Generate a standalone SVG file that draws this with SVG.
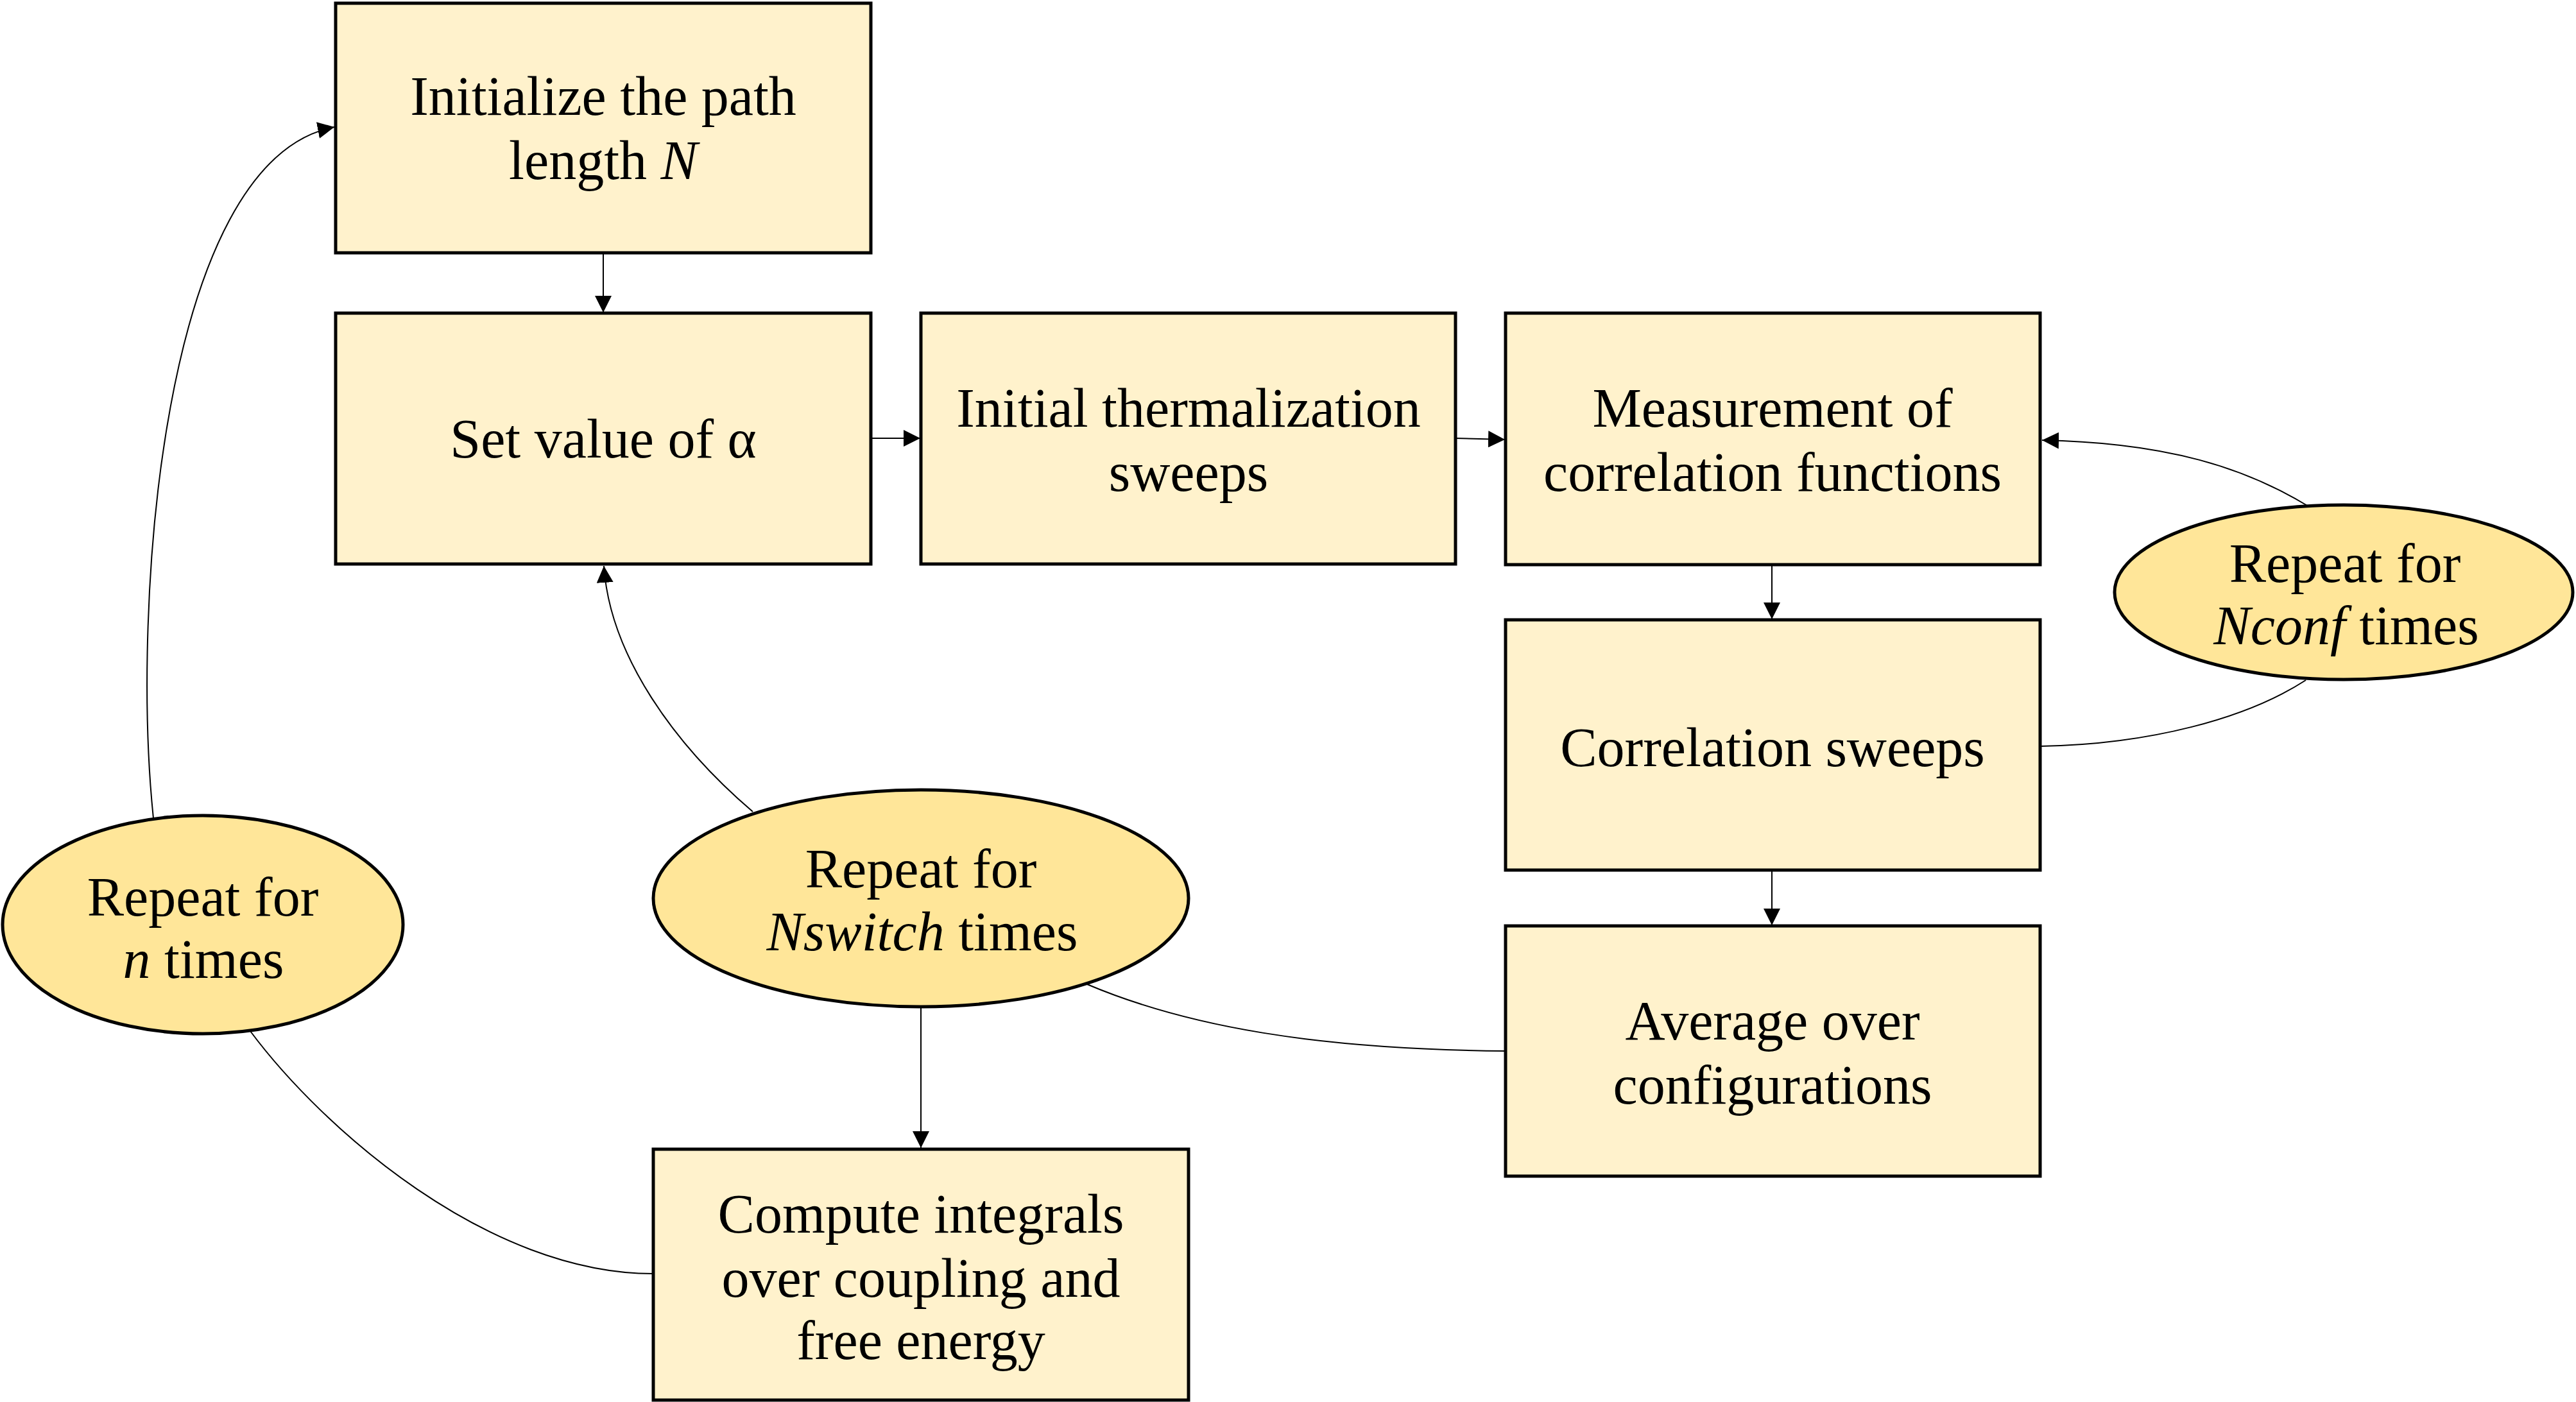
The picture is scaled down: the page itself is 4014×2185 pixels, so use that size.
<svg xmlns="http://www.w3.org/2000/svg" width="4014" height="2185" viewBox="0 0 4014 2185">
<style>
.box{fill:#FFF2CC;stroke:#000;stroke-width:5}
.ell{fill:#FFE699;stroke:#000;stroke-width:5}
.t{font-family:"Liberation Serif","Times New Roman",serif;font-size:86px;fill:#000;text-anchor:middle}
.i{font-style:italic}
.c{fill:none;stroke:#000;stroke-width:2}
</style>
<defs>
<marker id="ah" markerUnits="userSpaceOnUse" markerWidth="26" markerHeight="26" refX="26" refY="13" orient="auto" viewBox="0 0 26 26">
<path d="M0,0 L26,13 L0,26 z" fill="#000"/>
</marker>
</defs>
<rect width="4014" height="2185" fill="#fff"/>
<g id="connectors">
<path class="c" d="M940,394 L940,487" marker-end="url(#ah)"/>
<path class="c" d="M1357,683 L1434,683" marker-end="url(#ah)"/>
<path class="c" d="M2268,683 L2345,685" marker-end="url(#ah)"/>
<path class="c" d="M2761,880 L2761,965" marker-end="url(#ah)"/>
<path class="c" d="M2761,1356 L2761,1442" marker-end="url(#ah)"/>
<path class="c" d="M1435,1569 L1435,1789" marker-end="url(#ah)"/>
<path class="c" d="M239,1275 C205,950 250,250 521,198" marker-end="url(#ah)"/>
<path class="c" d="M390,1607 C504,1760 760,1985 1018,1985"/>
<path class="c" d="M1173,1265 C1050,1160 950,1020 941,882" marker-end="url(#ah)"/>
<path class="c" d="M1694,1534 C1850,1600 2050,1635 2346,1638"/>
<path class="c" d="M3179,1163 C3350,1160 3500,1120 3593,1060"/>
<path class="c" d="M3597,789 C3500,730 3380,690 3182,686" marker-end="url(#ah)"/>
</g>
<g id="init-path">
<rect class="box" x="523" y="5" width="834" height="389"/>
<text class="t" x="940" y="179">Initialize the path</text>
<text class="t" x="940" y="279">length <tspan class="i">N</tspan></text>
</g>
<g id="set-alpha">
<rect class="box" x="523" y="488" width="834" height="391"/>
<text class="t" x="940" y="713">Set value of α</text>
</g>
<g id="thermalization">
<rect class="box" x="1435" y="488" width="833" height="391"/>
<text class="t" x="1852" y="665">Initial thermalization</text>
<text class="t" x="1852" y="765">sweeps</text>
</g>
<g id="measurement">
<rect class="box" x="2346" y="488" width="833" height="392"/>
<text class="t" x="2762" y="665">Measurement of</text>
<text class="t" x="2762" y="765">correlation functions</text>
</g>
<g id="corr-sweeps">
<rect class="box" x="2346" y="966" width="833" height="390"/>
<text class="t" x="2762" y="1194">Correlation sweeps</text>
</g>
<g id="average">
<rect class="box" x="2346" y="1443" width="833" height="390"/>
<text class="t" x="2762" y="1620">Average over</text>
<text class="t" x="2762" y="1720">configurations</text>
</g>
<g id="compute">
<rect class="box" x="1018" y="1791" width="834" height="391"/>
<text class="t" x="1435" y="1921">Compute integrals</text>
<text class="t" x="1435" y="2021">over coupling and</text>
<text class="t" x="1435" y="2118">free energy</text>
</g>
<g id="repeat-n">
<ellipse class="ell" cx="316" cy="1441" rx="312" ry="170"/>
<text class="t" x="316" y="1427">Repeat for</text>
<text class="t" x="317" y="1524"><tspan class="i">n</tspan> times</text>
</g>
<g id="repeat-nswitch">
<ellipse class="ell" cx="1435" cy="1400" rx="417" ry="169"/>
<text class="t" x="1435" y="1383">Repeat for</text>
<text class="t" x="1437" y="1481"><tspan class="i">Nswitch</tspan> times</text>
</g>
<g id="repeat-nconf">
<ellipse class="ell" cx="3652" cy="923" rx="357" ry="136"/>
<text class="t" x="3654" y="907">Repeat for</text>
<text class="t" x="3656" y="1004"><tspan class="i">Nconf</tspan> times</text>
</g>
</svg>
